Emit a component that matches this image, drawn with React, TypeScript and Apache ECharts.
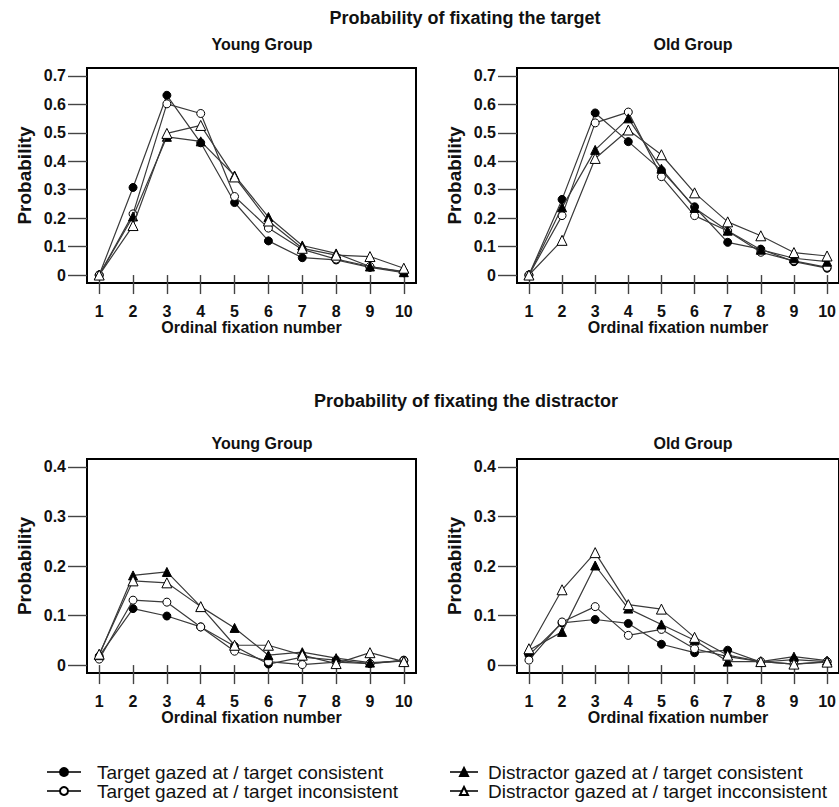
import React, { useEffect, useRef } from "react";
import * as echarts from "echarts";

const FONT = "'Liberation Sans', Arial, Helvetica, sans-serif";

const fixations = [1, 2, 3, 4, 5, 6, 7, 8, 9, 10];
const targetTicks = [0, 0.1, 0.2, 0.3, 0.4, 0.5, 0.6, 0.7];
const distractorTicks = [0, 0.1, 0.2, 0.3, 0.4];

const seriesNames = [
  "Target gazed at / target consistent",
  "Target gazed at / target inconsistent",
  "Distractor gazed at / target consistent",
  "Distractor gazed at / target incconsistent",
];

// Probability of fixating the target — Young group
const youngTargetTC = [0, 0.308, 0.632, 0.465, 0.255, 0.12, 0.061, 0.053, 0.027, 0.008];
const youngTargetTI = [0, 0.215, 0.602, 0.568, 0.276, 0.165, 0.09, 0.056, 0.03, 0.012];
const youngTargetDC = [0, 0.206, 0.486, 0.47, 0.35, 0.204, 0.104, 0.076, 0.03, 0.01];
const youngTargetDI = [0, 0.174, 0.498, 0.526, 0.345, 0.19, 0.094, 0.07, 0.065, 0.024];

// Probability of fixating the target — Old group
const oldTargetTC = [0, 0.266, 0.57, 0.469, 0.368, 0.24, 0.115, 0.091, 0.047, 0.024];
const oldTargetTI = [0, 0.209, 0.535, 0.573, 0.346, 0.209, 0.155, 0.08, 0.05, 0.027];
const oldTargetDC = [0, 0.238, 0.44, 0.551, 0.374, 0.236, 0.156, 0.089, 0.059, 0.047];
const oldTargetDI = [0, 0.122, 0.41, 0.51, 0.423, 0.289, 0.187, 0.138, 0.079, 0.067];

// Probability of fixating the distractor — Young group
const youngDistTC = [0.018, 0.114, 0.099, 0.077, 0.038, 0.002, 0.016, 0.01, 0.003, 0.01];
const youngDistTI = [0.012, 0.131, 0.127, 0.077, 0.028, 0.007, 0.001, 0.006, 0.003, 0.009];
const youngDistDC = [0.02, 0.181, 0.188, 0.118, 0.075, 0.02, 0.026, 0.014, 0.005, 0.008];
const youngDistDI = [0.022, 0.17, 0.166, 0.118, 0.04, 0.04, 0.02, 0.003, 0.025, 0.007];

// Probability of fixating the distractor — Old group
const oldDistTC = [0.02, 0.085, 0.092, 0.084, 0.042, 0.025, 0.03, 0.006, 0.011, 0.007];
const oldDistTI = [0.01, 0.087, 0.118, 0.06, 0.072, 0.033, 0.017, 0.007, 0.002, 0.007];
const oldDistDC = [0.03, 0.067, 0.201, 0.114, 0.082, 0.05, 0.007, 0.007, 0.017, 0.009];
const oldDistDI = [0.033, 0.152, 0.227, 0.122, 0.113, 0.056, 0.02, 0.007, 0.002, 0.006];

const panels = [
  { data: [youngTargetTC, youngTargetTI, youngTargetDC, youngTargetDI] },
  { data: [oldTargetTC, oldTargetTI, oldTargetDC, oldTargetDI] },
  { data: [youngDistTC, youngDistTI, youngDistDC, youngDistDI] },
  { data: [oldDistTC, oldDistTI, oldDistDC, oldDistDI] },
];

const markerStyles = [
  { symbol: "circle", size: 8, fill: "#000" },
  { symbol: "circle", size: 8, fill: "#fff" },
  { symbol: "triangle", size: 9, fill: "#000" },
  { symbol: "triangle", size: 10, fill: "#fff" },
];

const LINE = "#3a3a3a";
const TICK = "#444";

export default function App() {
  const ref = useRef<HTMLDivElement>(null);

  useEffect(() => {
    document.body.style.margin = "0";
    if (!ref.current) return;
    const chart = echarts.init(ref.current, undefined, { renderer: "svg" });

    const grids = [
      { left: 87, top: 68, width: 329, height: 215 },
      { left: 517, top: 68, width: 329, height: 215 },
      { left: 87, top: 459, width: 329, height: 214 },
      { left: 517, top: 459, width: 329, height: 214 },
    ].map((g) => ({ ...g, show: true, borderColor: "#000", borderWidth: 2, backgroundColor: "transparent" }));

    const xAxes = grids.map((_, i) => ({
      type: "value",
      gridIndex: i,
      min: 0.64,
      max: 10.36,
      axisLine: { show: false },
      splitLine: { show: false },
      axisTick: { show: true, inside: false, length: 19, customValues: fixations, lineStyle: { color: TICK, width: 1.4 } },
      axisLabel: {
        customValues: fixations,
        margin: 20,
        fontSize: 16,
        fontWeight: "bold",
        fontFamily: FONT,
        color: "#111",
      },
      name: "Ordinal fixation number",
      nameLocation: "middle",
      nameGap: 36,
      nameTextStyle: { fontSize: 16, fontWeight: "bold", fontFamily: FONT, color: "#111" },
    }));

    const yAxes = grids.map((_, i) => {
      const isTarget = i < 2;
      const ticks = isTarget ? targetTicks : distractorTicks;
      return {
        type: "value",
        gridIndex: i,
        min: isTarget ? -0.028 : -0.016,
        max: isTarget ? 0.728 : 0.416,
        axisLine: { show: false },
        splitLine: { show: false },
        axisTick: { show: true, inside: false, length: 19, customValues: ticks, lineStyle: { color: TICK, width: 1.4 } },
        axisLabel: {
          customValues: ticks,
          margin: 21,
          fontSize: 16,
          fontWeight: "bold",
          fontFamily: FONT,
          color: "#111",
          formatter: (v: number) => (v === 0 ? "0" : v.toFixed(1)),
        },
        name: "Probability",
        nameLocation: "middle",
        nameRotate: 90,
        nameGap: 53,
        nameTextStyle: { fontSize: 19, fontWeight: "bold", fontFamily: FONT, color: "#111" },
      };
    });

    const order = [3, 2, 1, 0];
    const series: any[] = [];
    panels.forEach((p, pi) => {
      order.forEach((si) => {
        const m = markerStyles[si];
        series.push({
          type: "line",
          name: seriesNames[si],
          xAxisIndex: pi,
          yAxisIndex: pi,
          data: fixations.map((x, k) => [x, p.data[si][k]]),
          symbol: m.symbol,
          symbolSize: m.size,
          showAllSymbol: true,
          lineStyle: { color: LINE, width: 1.2 },
          itemStyle: { color: m.fill, borderColor: "#000", borderWidth: 1 },
          emphasis: { disabled: true },
          z: 3 + si,
        });
      });
    });

    const titleText = (text: string, x: number, y: number, size: number) => ({
      type: "text",
      x,
      y,
      style: {
        text,
        fontSize: size,
        fontWeight: "bold",
        fontFamily: FONT,
        fill: "#111",
        align: "center",
        verticalAlign: "middle",
        textAlign: "center",
        textVerticalAlign: "middle",
      },
    });

    const legendItem = (name: string, left: number, top: number, itemWidth: number, pad: number) => ({
      data: [name],
      left,
      top,
      padding: 0,
      itemWidth,
      itemHeight: 10,
      selectedMode: false,
      textStyle: { fontSize: 19, lineHeight: 20, fontFamily: FONT, color: "#111", padding: [0, 0, 0, pad] },
    });

    chart.setOption({
      animation: false,
      backgroundColor: "#fff",
      grid: grids,
      xAxis: xAxes,
      yAxis: yAxes,
      series,
      legend: [
        legendItem(seriesNames[0], 46, 762, 34, 11),
        legendItem(seriesNames[1], 46, 781, 34, 11),
        legendItem(seriesNames[2], 449, 762, 28, 5),
        legendItem(seriesNames[3], 449, 781, 28, 5),
      ],
      graphic: [
        titleText("Probability of fixating the target", 465, 18, 18),
        titleText("Young Group", 262, 44, 16),
        titleText("Old Group", 693, 44, 16),
        titleText("Probability of fixating the distractor", 466, 401, 18),
        titleText("Young Group", 262, 443, 16),
        titleText("Old Group", 693, 443, 16),
      ],
    });

    return () => chart.dispose();
  }, []);

  return <div ref={ref} style={{ width: 839, height: 807 }} />;
}
